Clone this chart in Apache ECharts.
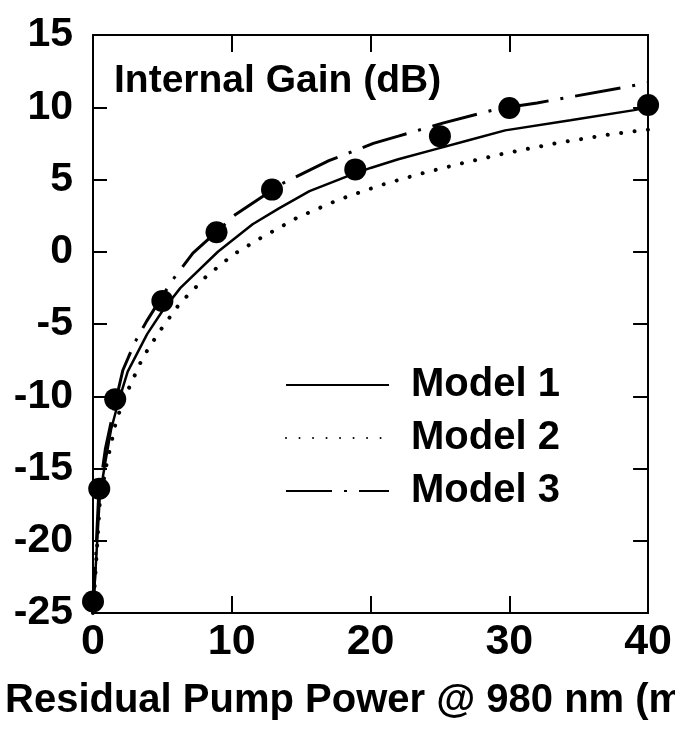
<!DOCTYPE html>
<html>
<head>
<meta charset="utf-8">
<script src="https://cdn.jsdelivr.net/npm/echarts@6/dist/echarts.min.js"></script>
<style>
html,body{margin:0;padding:0;background:#fff;}
#chart{width:675px;height:737px;}
</style>
</head>
<body>
<div id="chart"></div>
<script>
// ---- data ----
const xTicks = [0, 10, 20, 30, 40];
const yTicks = [-25, -20, -15, -10, -5, 0, 5, 10, 15];

const expPower = [0, 0.45, 1.6, 5, 8.9, 12.9, 18.9, 25, 30, 40];
const expGain  = [-24.2, -16.4, -10.2, -3.4, 1.35, 4.3, 5.7, 8.0, 9.95, 10.15];

const model1Power = [0, 0.5, 0.9, 1.3, 1.8, 2.5, 3.9, 5, 6.3, 9, 11.5, 13.4, 15.6, 18.4, 20, 22, 24.7, 27, 29.7, 34.4, 39, 40];
const model1Gain  = [-25, -16.8, -14.5, -12.3, -10.5, -8.3, -5.7, -4.1, -2.5, 0, 1.9, 3.0, 4.2, 5.25, 5.8, 6.4, 7.1, 7.7, 8.4, 9.1, 9.8, 10.0];

const model2Power = [0, 0.5, 1, 1.6, 2, 2.65, 3.6, 4.8, 6.24, 8.17, 10.1, 12, 14.8, 17.7, 20.7, 23.6, 26.5, 29.4, 33.3, 37.1, 40];
const model2Gain  = [-25, -17.2, -14.6, -12.0, -10.8, -9.3, -7.3, -5.5, -3.6, -1.7, -0.2, 0.9, 2.4, 3.6, 4.6, 5.4, 6.1, 6.75, 7.5, 8.1, 8.45];

const model3Power = [0, 0.4, 0.9, 1.5, 2.15, 3.0, 3.87, 5.7, 7.2, 10.3, 13.6, 17, 20.2, 22, 25.2, 29.2, 32, 38.4, 40];
const model3Gain  = [-25, -17, -13.6, -10.9, -8.2, -6.3, -4.8, -2.0, -0.1, 2.6, 4.7, 6.3, 7.5, 8.0, 8.9, 9.9, 10.3, 11.4, 11.7];

const seriesNames = ['Model 1', 'Model 2', 'Model 3'];
const titleText = 'Internal Gain (dB)';
const xAxisName = 'Residual Pump Power @ 980 nm (m';

function pairs(xs, ys) { return xs.map((x, i) => [x, ys[i]]); }

const FONT = '"Liberation Sans", Arial, sans-serif';

const chart = echarts.init(document.getElementById('chart'), null, {renderer: 'canvas'});

const axisCommon = {
  type: 'value',
  axisLine: {show: true, onZero: false, lineStyle: {color: '#000', width: 2}},
  splitLine: {show: false}
};

chart.setOption({
  backgroundColor: '#fff',
  animation: false,
  grid: {left: 93, right: 24, top: 35, bottom: 124, containLabel: false},
  xAxis: [
    Object.assign({}, axisCommon, {
      position: 'bottom', min: xTicks[0], max: xTicks[xTicks.length - 1], interval: 10,
      axisTick: {inside: true, length: 17, lineStyle: {color: '#000', width: 2}},
      axisLabel: {color: '#000', fontSize: 43, fontWeight: 'bold', fontFamily: FONT, margin: 8}
    }),
    Object.assign({}, axisCommon, {
      position: 'top', min: xTicks[0], max: xTicks[xTicks.length - 1], interval: 10,
      axisTick: {inside: true, length: 17, lineStyle: {color: '#000', width: 2}},
      axisLabel: {show: false}
    })
  ],
  yAxis: [
    Object.assign({}, axisCommon, {
      position: 'left', min: yTicks[0], max: yTicks[yTicks.length - 1], interval: 5,
      axisTick: {inside: true, length: 14, lineStyle: {color: '#000', width: 2}},
      axisLabel: {color: '#000', fontSize: 41, fontWeight: 'bold', fontFamily: FONT, margin: 20}
    }),
    Object.assign({}, axisCommon, {
      position: 'right', min: yTicks[0], max: yTicks[yTicks.length - 1], interval: 5,
      axisTick: {inside: true, length: 15, lineStyle: {color: '#000', width: 2}},
      axisLabel: {show: false}
    })
  ],
  legend: {
    data: seriesNames,
    orient: 'vertical',
    left: 280, top: 356,
    itemWidth: 103, itemHeight: 20, itemGap: 5,
    itemStyle: {opacity: 0},
    textStyle: {color: '#000', fontSize: 40, fontWeight: 'bold', fontFamily: FONT, padding: [0, 0, 0, 17], lineHeight: 48},
    selectedMode: false
  },
  graphic: [
    {type: 'text', left: 114, top: 62, style: {text: titleText, fill: '#000', font: 'bold 39px ' + FONT}},
    {type: 'text', left: 5, top: 681, style: {text: xAxisName, fill: '#000', font: 'bold 40px ' + FONT}}
  ],
  series: [
    {
      name: seriesNames[0], type: 'line', data: pairs(model1Power, model1Gain),
      showSymbol: false, symbol: 'none', smooth: false,
      lineStyle: {color: '#000', width: 2.5},
      itemStyle: {color: '#000'}
    },
    {
      name: seriesNames[1], type: 'line', data: pairs(model2Power, model2Gain),
      showSymbol: false, symbol: 'none', smooth: false,
      lineStyle: {color: '#000', width: 4, type: [0.01, 13.5], cap: 'round'},
      itemStyle: {color: '#000'}
    },
    {
      name: seriesNames[2], type: 'line', data: pairs(model3Power, model3Gain),
      showSymbol: false, symbol: 'none', smooth: false,
      lineStyle: {color: '#000', width: 3, type: [46, 12, 3, 12]},
      itemStyle: {color: '#000'}
    },
    {
      name: 'Experiment', type: 'scatter', data: pairs(expPower, expGain),
      symbol: 'circle', symbolSize: 22, clip: false,
      itemStyle: {color: '#000', opacity: 1}, z: 5
    }
  ]
});
</script>
</body>
</html>
